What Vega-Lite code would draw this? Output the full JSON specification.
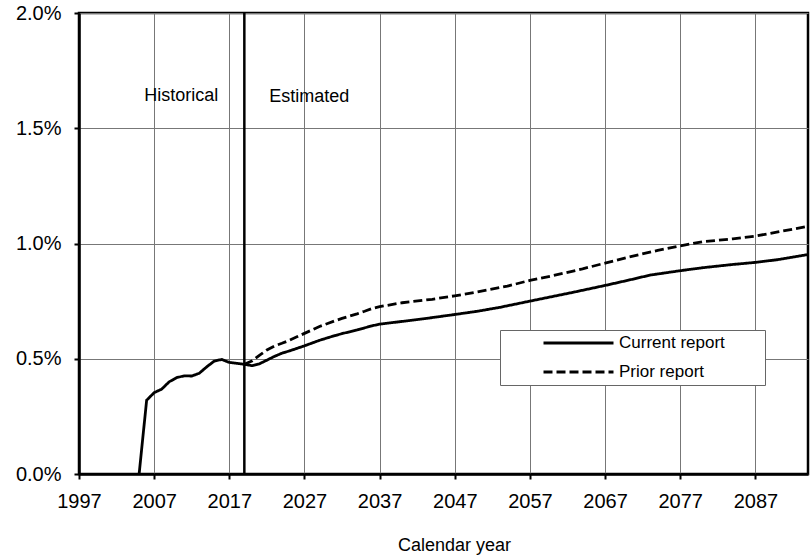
{
  "$schema": "https://vega.github.io/schema/vega-lite/v6.json",
  "width": 729,
  "height": 461,
  "autosize": {"type": "none"},
  "padding": {"left": 79, "top": 13, "right": 4, "bottom": 84},
  "background": "white",
  "config": {
    "font": "Liberation Sans",
    "view": {"stroke": "black", "strokeWidth": 2.5},
    "axis": {
      "domainColor": "black",
      "domainWidth": 2.5,
      "tickColor": "black",
      "tickWidth": 2,
      "tickSize": 5,
      "gridColor": "#777",
      "gridWidth": 1,
      "labelFontSize": 20,
      "labelColor": "black",
      "titleColor": "black",
      "titleFontWeight": "normal"
    },
    "legend": {
      "orient": "none",
      "legendX": 421,
      "legendY": 317,
      "fillColor": "white",
      "strokeColor": "#666",
      "padding": 3,
      "symbolType": "stroke",
      "symbolSize": 4900,
      "symbolStrokeWidth": 2.8,
      "symbolStrokeColor": "black",
      "symbolOffset": 39,
      "labelFontSize": 17,
      "labelColor": "black",
      "labelPadding": 7,
      "clipHeight": 20,
      "rowPadding": 9,
      "titleOrient": "right",
      "titleColor": "white",
      "titleFontSize": 22,
      "titlePadding": 0
    }
  },
  "layer": [
    {
      "data": {"values": [
        {"year": 2005, "value": 0, "series": "Current report"},
        {"year": 2006, "value": 0.32, "series": "Current report"},
        {"year": 2007, "value": 0.353, "series": "Current report"},
        {"year": 2008, "value": 0.368, "series": "Current report"},
        {"year": 2009, "value": 0.4, "series": "Current report"},
        {"year": 2010, "value": 0.418, "series": "Current report"},
        {"year": 2011, "value": 0.426, "series": "Current report"},
        {"year": 2012, "value": 0.425, "series": "Current report"},
        {"year": 2013, "value": 0.437, "series": "Current report"},
        {"year": 2014, "value": 0.465, "series": "Current report"},
        {"year": 2015, "value": 0.49, "series": "Current report"},
        {"year": 2016, "value": 0.497, "series": "Current report"},
        {"year": 2017, "value": 0.484, "series": "Current report"},
        {"year": 2018, "value": 0.48, "series": "Current report"},
        {"year": 2019, "value": 0.476, "series": "Current report"},
        {"year": 2020, "value": 0.47, "series": "Current report"},
        {"year": 2021, "value": 0.478, "series": "Current report"},
        {"year": 2022, "value": 0.494, "series": "Current report"},
        {"year": 2023, "value": 0.51, "series": "Current report"},
        {"year": 2024, "value": 0.524, "series": "Current report"},
        {"year": 2025, "value": 0.534, "series": "Current report"},
        {"year": 2026, "value": 0.545, "series": "Current report"},
        {"year": 2027, "value": 0.556, "series": "Current report"},
        {"year": 2028, "value": 0.568, "series": "Current report"},
        {"year": 2029, "value": 0.58, "series": "Current report"},
        {"year": 2030, "value": 0.59, "series": "Current report"},
        {"year": 2031, "value": 0.6, "series": "Current report"},
        {"year": 2032, "value": 0.609, "series": "Current report"},
        {"year": 2033, "value": 0.617, "series": "Current report"},
        {"year": 2034, "value": 0.625, "series": "Current report"},
        {"year": 2035, "value": 0.634, "series": "Current report"},
        {"year": 2036, "value": 0.643, "series": "Current report"},
        {"year": 2037, "value": 0.65, "series": "Current report"},
        {"year": 2040, "value": 0.662, "series": "Current report"},
        {"year": 2043, "value": 0.674, "series": "Current report"},
        {"year": 2047, "value": 0.692, "series": "Current report"},
        {"year": 2050, "value": 0.706, "series": "Current report"},
        {"year": 2053, "value": 0.723, "series": "Current report"},
        {"year": 2057, "value": 0.75, "series": "Current report"},
        {"year": 2060, "value": 0.77, "series": "Current report"},
        {"year": 2063, "value": 0.79, "series": "Current report"},
        {"year": 2067, "value": 0.818, "series": "Current report"},
        {"year": 2070, "value": 0.84, "series": "Current report"},
        {"year": 2073, "value": 0.863, "series": "Current report"},
        {"year": 2077, "value": 0.882, "series": "Current report"},
        {"year": 2080, "value": 0.895, "series": "Current report"},
        {"year": 2084, "value": 0.909, "series": "Current report"},
        {"year": 2087, "value": 0.918, "series": "Current report"},
        {"year": 2090, "value": 0.93, "series": "Current report"},
        {"year": 2094, "value": 0.952, "series": "Current report"},
        {"year": 2019, "value": 0.476, "series": "Prior report"},
        {"year": 2020, "value": 0.49, "series": "Prior report"},
        {"year": 2021, "value": 0.515, "series": "Prior report"},
        {"year": 2022, "value": 0.538, "series": "Prior report"},
        {"year": 2023, "value": 0.555, "series": "Prior report"},
        {"year": 2024, "value": 0.567, "series": "Prior report"},
        {"year": 2025, "value": 0.58, "series": "Prior report"},
        {"year": 2026, "value": 0.595, "series": "Prior report"},
        {"year": 2027, "value": 0.61, "series": "Prior report"},
        {"year": 2028, "value": 0.625, "series": "Prior report"},
        {"year": 2029, "value": 0.64, "series": "Prior report"},
        {"year": 2030, "value": 0.652, "series": "Prior report"},
        {"year": 2031, "value": 0.664, "series": "Prior report"},
        {"year": 2032, "value": 0.675, "series": "Prior report"},
        {"year": 2033, "value": 0.685, "series": "Prior report"},
        {"year": 2034, "value": 0.695, "series": "Prior report"},
        {"year": 2035, "value": 0.706, "series": "Prior report"},
        {"year": 2036, "value": 0.718, "series": "Prior report"},
        {"year": 2037, "value": 0.726, "series": "Prior report"},
        {"year": 2040, "value": 0.743, "series": "Prior report"},
        {"year": 2044, "value": 0.758, "series": "Prior report"},
        {"year": 2047, "value": 0.773, "series": "Prior report"},
        {"year": 2050, "value": 0.79, "series": "Prior report"},
        {"year": 2054, "value": 0.815, "series": "Prior report"},
        {"year": 2057, "value": 0.84, "series": "Prior report"},
        {"year": 2060, "value": 0.86, "series": "Prior report"},
        {"year": 2064, "value": 0.89, "series": "Prior report"},
        {"year": 2067, "value": 0.915, "series": "Prior report"},
        {"year": 2070, "value": 0.94, "series": "Prior report"},
        {"year": 2074, "value": 0.97, "series": "Prior report"},
        {"year": 2077, "value": 0.99, "series": "Prior report"},
        {"year": 2080, "value": 1.008, "series": "Prior report"},
        {"year": 2084, "value": 1.02, "series": "Prior report"},
        {"year": 2087, "value": 1.032, "series": "Prior report"},
        {"year": 2090, "value": 1.05, "series": "Prior report"},
        {"year": 2094, "value": 1.075, "series": "Prior report"}
      ]},
      "mark": {"type": "line", "color": "black", "strokeWidth": 2.8, "clip": true},
      "encoding": {
        "x": {
          "field": "year", "type": "quantitative",
          "scale": {"domain": [1997, 2094], "nice": false, "zero": false},
          "axis": {
            "title": "Calendar year",
            "titleFontSize": 18,
            "titleBaseline": "alphabetic",
            "titleAnchor": "middle",
            "titleX": 375,
            "titleY": 76,
            "values": [1997, 2002, 2007, 2012, 2017, 2022, 2027, 2032, 2037, 2042, 2047, 2052, 2057, 2062, 2067, 2072, 2077, 2082, 2087, 2092],
            "labelExpr": "(datum.value - 1997) % 10 == 0 ? '' + datum.value : ''",
            "labelPadding": 12,
            "labelOverlap": false,
            "labelFlush": false,
            "grid": true,
            "gridOpacity": {"condition": {"test": "(datum.value - 1997) % 10 == 0 && datum.value > 1997", "value": 1}, "value": 0}
          }
        },
        "y": {
          "field": "value", "type": "quantitative",
          "scale": {"domain": [0, 2], "nice": false},
          "axis": {
            "title": null,
            "values": [0, 0.5, 1, 1.5, 2],
            "labelExpr": "format(datum.value, '.1f') + '%'",
            "labelPadding": 13,
            "labelFlush": false,
            "grid": true
          }
        },
        "strokeDash": {
          "field": "series", "type": "nominal",
          "scale": {"domain": ["Current report", "Prior report"], "range": [[1, 0], [9, 4]]},
          "legend": {"title": "MM"}
        }
      }
    },
    {
      "data": {"values": [{"year": 2019}]},
      "mark": {"type": "rule", "color": "black", "strokeWidth": 2.5},
      "encoding": {"x": {"field": "year", "type": "quantitative"}}
    },
    {
      "data": {"values": [{"year": 2010.6, "value": 1.62, "label": "Historical"}]},
      "mark": {"type": "text", "fontSize": 18, "color": "black", "baseline": "alphabetic", "align": "center"},
      "encoding": {
        "x": {"field": "year", "type": "quantitative"},
        "y": {"field": "value", "type": "quantitative"},
        "text": {"field": "label"}
      }
    },
    {
      "data": {"values": [{"year": 2022.3, "value": 1.615, "label": "Estimated"}]},
      "mark": {"type": "text", "fontSize": 18, "color": "black", "baseline": "alphabetic", "align": "left"},
      "encoding": {
        "x": {"field": "year", "type": "quantitative"},
        "y": {"field": "value", "type": "quantitative"},
        "text": {"field": "label"}
      }
    }
  ]
}
